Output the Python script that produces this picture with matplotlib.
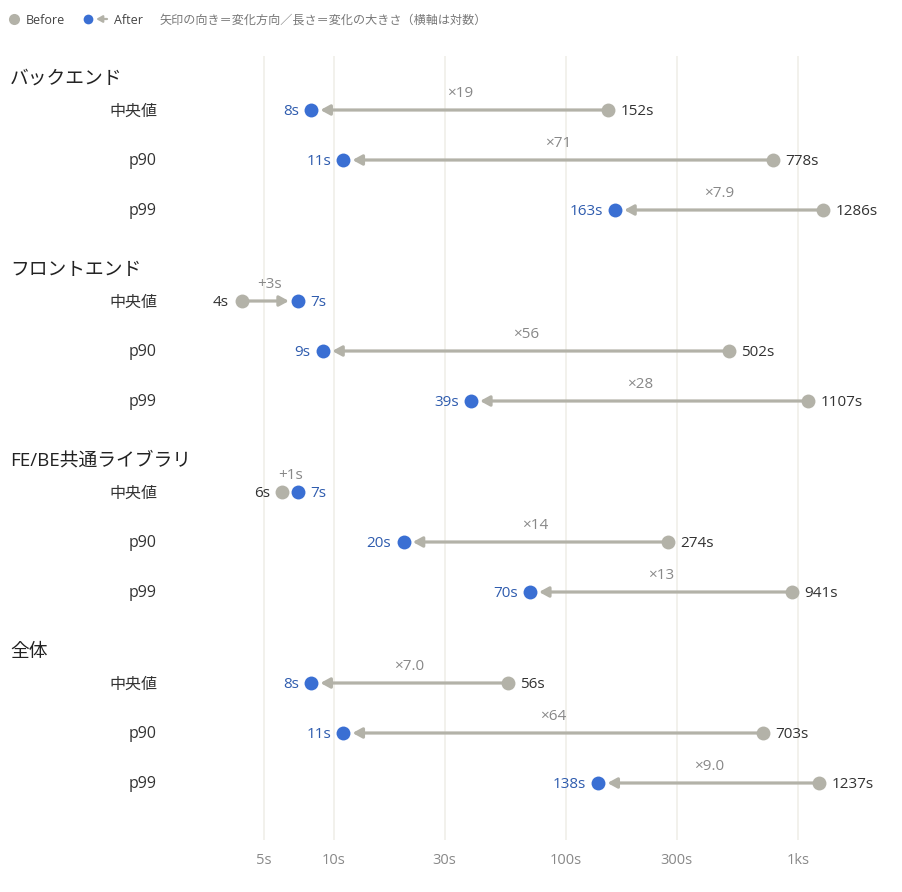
import numpy as np
import matplotlib.pyplot as plt

plt.rcParams['font.family'] = ['Open Sans', 'Noto Sans CJK JP', 'DejaVu Sans']

groups = ['バックエンド', 'フロントエンド', 'FE/BE共通ライブラリ', '全体']
metrics = ['中央値', 'p90', 'p99']
before = [[152, 778, 1286],
          [4, 502, 1107],
          [6, 274, 941],
          [56, 703, 1237]]
after = [[8, 11, 163],
         [7, 9, 39],
         [7, 20, 70],
         [8, 11, 138]]
xticks = [5, 10, 30, 100, 300, 1000]
xticklabels = ['5s', '10s', '30s', '100s', '300s', '1ks']

GRAY = '#b3b2a8'
BLUE = '#3a6fd3'
BLUE_TXT = '#2f5cae'
DARK = '#333333'
MUTED = '#888888'
GRID = '#f0efe9'

W, H = 902, 892
fig = plt.figure(figsize=(W / 100, H / 100), dpi=100)
# axes box in pixels: x 200..890, y 56..840
ax = fig.add_axes([200 / W, 1 - 840 / H, 690 / W, 784 / H])
ax.set_xscale('log')
ax.set_xlim(2.65, 2490)
ax.set_ylim(14.6, -1.08)

row_step = 1.0
group_step = 3.82

for g, gname in enumerate(groups):
    y0 = g * group_step
    # group header
    ax.annotate(gname, xy=(10 / W, y0 - 0.63), xycoords=('figure fraction', 'data'),
                ha='left', va='center', fontsize=13.5, color='#222222')
    for r, m in enumerate(metrics):
        y = y0 + r * row_step
        b = before[g][r]
        a = after[g][r]
        # row label
        ax.annotate(m, xy=(157 / W, y), xycoords=('figure fraction', 'data'),
                    xytext=(0, -1), textcoords='offset points',
                    ha='right', va='center', fontsize=11.5, color=DARK)
        dist_px = abs(np.log10(a / b)) * 232
        if dist_px > 25:
            ax.annotate('', xy=(a, y), xytext=(b, y),
                        arrowprops=dict(arrowstyle='-|>,head_length=0.55,head_width=0.3',
                                        color=GRAY, lw=2.3, shrinkA=0, shrinkB=6.5),
                        zorder=2)
        ax.plot([b], [y], 'o', ms=10, color=GRAY, mec='none', zorder=3)
        ax.plot([a], [y], 'o', ms=10, color=BLUE, mec='none', zorder=4)
        dec = a < b
        ax.annotate(f'{b}s', xy=(b, y), xytext=(9 if dec else -9, -1), textcoords='offset points',
                    ha='left' if dec else 'right', va='center', fontsize=11, color=DARK)
        ax.annotate(f'{a}s', xy=(a, y), xytext=(-9 if dec else 9, -1), textcoords='offset points',
                    ha='right' if dec else 'left', va='center', fontsize=11, color=BLUE_TXT)
        if dec:
            ratio = b / a
            lab = f'×{ratio:.0f}' if ratio >= 10 else f'×{ratio:.1f}'
        else:
            lab = f'+{a - b}s'
        ax.text(np.sqrt(a * b), y - 0.33, lab, ha='center', va='center', fontsize=11, color=MUTED)

ax.set_xticks(xticks)
ax.set_xticklabels(xticklabels)
ax.xaxis.set_minor_locator(plt.NullLocator())
ax.tick_params(axis='x', length=0, pad=9, labelsize=10.5, labelcolor=MUTED)
ax.set_yticks([])
ax.grid(axis='x', color=GRID, lw=1.2)
ax.set_axisbelow(True)
for s in ax.spines.values():
    s.set_visible(False)

# legend row
fig.text(26 / W, 1 - 20 / H, 'Before', ha='left', va='center', fontsize=9, color='#444444')
fig.text(114 / W, 1 - 20 / H, 'After', ha='left', va='center', fontsize=9, color='#444444')
fig.text(160 / W, 1 - 20 / H, '矢印の向き＝変化方向／長さ＝変化の大きさ（横軸は対数）',
         ha='left', va='center', fontsize=8.7, color='#777777')
lg = fig.add_axes([0, 1 - 30 / H, 120 / W, 22 / H])
lg.set_xlim(0, 120)
lg.set_ylim(30, 8)
lg.axis('off')
lg.plot([14], [19], 'o', ms=8, color=GRAY, mec='none')
lg.annotate('', xy=(92, 19), xytext=(107, 19),
            arrowprops=dict(arrowstyle='-|>,head_length=0.35,head_width=0.2',
                            color=GRAY, lw=1.6, shrinkA=0, shrinkB=3))
lg.plot([88], [19], 'o', ms=7, color=BLUE, mec='none', zorder=3)

fig.savefig('out.png', dpi=100, facecolor='white')
